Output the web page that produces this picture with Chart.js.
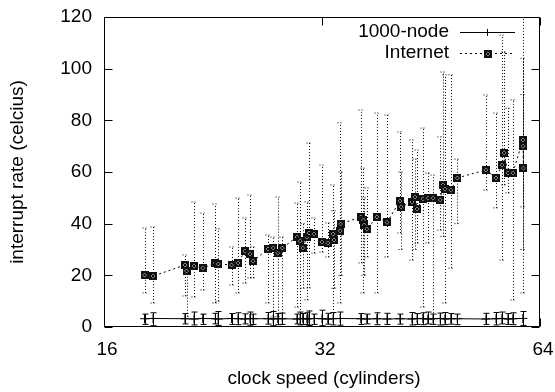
<!DOCTYPE html>
<html><head><meta charset="utf-8">
<script src="https://cdn.jsdelivr.net/npm/chart.js@4/dist/chart.umd.min.js"></script>
<style>html,body{margin:0;padding:0;background:#fff}#wrap{width:555px;height:392px}</style>
</head><body><div id="wrap"><canvas id="c" width="555" height="392"></canvas></div>
<script>
const xTicks = [16, 32, 64];
const yTicks = [0, 20, 40, 60, 80, 100, 120];
const seriesNames = ['1000-node', 'Internet'];
const xTitle = 'clock speed (cylinders)';
const yTitle = 'interrupt rate (celcius)';

const internetX = [18.2, 18.7, 20.7, 20.8, 21.3, 21.9, 22.8, 23.0, 24.0, 24.5, 25.05, 25.45, 25.7, 26.95, 27.4, 27.8, 28.2, 29.55, 29.85, 30.1, 30.5, 30.7, 31.2, 32.0, 32.6, 33.15, 33.25, 33.9, 33.95, 36.2, 36.5, 36.6, 36.9, 38.1, 39.35, 41.0, 41.15, 42.6, 43.0, 43.3, 44.1, 44.8, 45.55, 46.6, 47.0, 47.3, 48.2, 49.2, 53.9, 55.65, 56.7, 57.1, 57.8, 58.7, 60.6, 60.65, 60.7];
const internetY = [20.1, 19.7, 24.0, 21.7, 23.6, 22.8, 24.8, 24.4, 24.0, 24.8, 29.4, 28.3, 25.5, 30.2, 30.6, 28.6, 30.6, 34.8, 33.3, 30.6, 34.8, 36.4, 36.0, 32.9, 32.5, 36.0, 33.7, 37.2, 39.9, 42.6, 41.4, 39.5, 37.9, 42.6, 40.5, 48.8, 46.5, 48.4, 50.3, 45.7, 49.6, 49.9, 49.9, 49.2, 55.0, 53.4, 53.0, 57.7, 60.8, 57.7, 62.7, 67.4, 59.6, 59.6, 72.4, 70.0, 61.5];
const internetLow = [13.2, 9.3, 12, 4, 11.6, 14.3, 9.3, 10, 16.3, 13.2, 17, 19, 19, 9.3, 3.9, 4, 3, 7.7, 5.4, 15, 10.5, 15.1, 28.6, 29, 27.1, 5.4, 15, 9.3, 20, 24.8, 13.2, 20, 27.1, 13.2, 27.1, 36.4, 30, 25.9, 30, 32.5, 7.7, 32.5, 3, 37.5, 35, 9.3, 22.8, 40, 53, 46.1, 25.9, 55, 51.9, 10.5, 46.5, 13.2, 30];
const internetHigh = [38.3, 38.7, 27.9, 22.5, 48.4, 44.1, 47.6, 38, 31, 49.9, 42.2, 51.1, 31, 35.6, 34.8, 50.3, 34.8, 48, 56.1, 40, 48.4, 71.2, 42.2, 62.7, 40.3, 55, 45, 79, 60, 84, 61.5, 50, 53.8, 82.8, 82, 75.5, 60, 72.4, 65, 68.5, 77, 59.6, 58.8, 73.6, 98.7, 97.6, 97.6, 65, 89.8, 82.8, 113, 106.5, 84.7, 87.9, 104, 125, 90];

const nodeX = [18.2, 18.7, 20.7, 21.3, 21.9, 22.8, 23.0, 24.0, 24.5, 25.05, 25.45, 25.7, 26.95, 27.4, 27.8, 28.2, 29.55, 29.85, 30.1, 30.5, 30.7, 31.2, 32.0, 32.6, 33.15, 33.9, 36.2, 36.9, 38.1, 39.35, 41.0, 42.6, 43.3, 44.1, 44.8, 45.55, 46.6, 47.3, 48.2, 49.2, 53.9, 55.65, 56.7, 57.8, 58.7, 60.6];
const nodeY = [3.2, 3.3, 3.2, 3.1, 3.3, 3.2, 3.1, 3.3, 3.2, 3.1, 3.3, 3.2, 3.2, 3.1, 3.3, 3.2, 3.1, 3.2, 3.3, 3.1, 3.2, 3.3, 3.2, 3.1, 3.2, 3.3, 3.2, 3.1, 3.2, 3.1, 3.2, 3.1, 3.3, 3.2, 3.1, 3.2, 3.3, 3.1, 3.2, 3.2, 3.1, 3.2, 3.3, 3.1, 3.2, 3.3];
const nodeLow = [1.0, 0.5, 1.2, 0.8, 1.0, 1.2, 0.6, 1.0, 0.9, 1.2, 0.7, 1.0, 1.1, 0.5, 0.9, 1.0, 1.2, 0.8, 1.0, 0.9, 0.6, 1.0, 0.5, 1.1, 0.8, 0.7, 1.0, 1.2, 0.9, 1.0, 1.1, 0.8, 1.0, 0.9, 1.2, 1.0, 0.8, 0.9, 1.1, 0.9, 1.0, 0.8, 1.2, 1.0, 0.9, 0.6];
const nodeHigh = [5.0, 5.5, 5.2, 5.8, 5.0, 5.3, 6.0, 5.2, 5.5, 5.1, 5.8, 5.0, 5.6, 6.0, 5.2, 5.4, 5.0, 5.8, 5.2, 5.5, 6.2, 5.0, 6.5, 5.3, 5.6, 5.8, 5.2, 5.0, 5.5, 5.3, 5.0, 5.6, 5.2, 5.5, 5.8, 5.0, 5.4, 5.6, 5.2, 5.0, 5.3, 5.6, 5.8, 5.2, 5.5, 6.0];

const FONT = '"Liberation Sans", Arial, Helvetica, sans-serif';
const FS = 19;

function toPts(xs, ys, lo, hi) {
  return xs.map((x, i) => ({x: x, y: ys[i], lo: lo[i], hi: hi[i]}));
}

// marker for the Internet series: boxed x
const boxMark = document.createElement('canvas');
boxMark.width = 8; boxMark.height = 8;
(function(){
  const g = boxMark.getContext('2d');
  g.fillStyle = '#111'; g.fillRect(0, 0, 8, 8);
  g.fillStyle = '#888'; g.fillRect(2, 2, 4, 4);
  g.strokeStyle = '#000'; g.lineWidth = 1;
  g.beginPath(); g.moveTo(2, 2); g.lineTo(6, 6); g.moveTo(6, 2); g.lineTo(2, 6); g.stroke();
})();

const errorBars = {
  id: 'errorBars',
  beforeDatasetsDraw(chart) {
    const ctx = chart.ctx, xs = chart.scales.x, ys = chart.scales.y, a = chart.chartArea;
    ctx.save();
    ctx.beginPath(); ctx.rect(a.left, a.top, a.right - a.left, a.bottom - a.top); ctx.clip();
    chart.data.datasets.forEach((ds, di) => {
      ctx.strokeStyle = '#000';
      ctx.lineWidth = 1;
      ctx.setLineDash(di === 1 ? [1, 2] : []);
      ds.data.forEach(p => {
        const px = Math.round(xs.getPixelForValue(p.x)) + 0.5;
        const y1 = ys.getPixelForValue(p.lo), y2 = ys.getPixelForValue(p.hi);
        ctx.beginPath();
        ctx.moveTo(px, y1); ctx.lineTo(px, y2);
        ctx.moveTo(px - 3, y1); ctx.lineTo(px + 3, y1);
        ctx.moveTo(px - 3, y2); ctx.lineTo(px + 3, y2);
        ctx.stroke();
      });
    });
    ctx.restore();
  }
};

const frame = {
  id: 'frame',
  afterDraw(chart) {
    const ctx = chart.ctx, a = chart.chartArea, xs = chart.scales.x, ys = chart.scales.y;
    ctx.save();
    ctx.strokeStyle = '#000'; ctx.lineWidth = 1; ctx.setLineDash([]);
    const L = a.left + 0.5, R = a.right - 0.5, T = a.top + 0.5, B = a.bottom - 0.5;
    ctx.beginPath();
    ctx.rect(L, T, R - L, B - T);
    yTicks.forEach(v => {
      const y = Math.round(ys.getPixelForValue(v)) + 0.5;
      ctx.moveTo(L, y); ctx.lineTo(L + 8, y);
      ctx.moveTo(R, y); ctx.lineTo(R - 8, y);
    });
    xTicks.forEach(v => {
      const x = Math.round(xs.getPixelForValue(v)) + 0.5;
      ctx.moveTo(x, B); ctx.lineTo(x, B - 8);
      ctx.moveTo(x, T); ctx.lineTo(x, T + 8);
    });
    ctx.stroke();

    // axis titles
    ctx.fillStyle = '#000';
    ctx.font = FS + 'px ' + FONT;
    ctx.textAlign = 'center'; ctx.textBaseline = 'middle';
    ctx.fillText(xTitle, (a.left + a.right) / 2 + 2, 379);
    ctx.save();
    ctx.translate(18, (a.top + a.bottom) / 2);
    ctx.rotate(-Math.PI / 2);
    ctx.fillText(yTitle, 0, 0);
    ctx.restore();

    // legend
    ctx.textAlign = 'right';
    const rows = [32, 53];
    ctx.fillText(seriesNames[0], 449, rows[0]);
    ctx.fillText(seriesNames[1], 449, rows[1]);
    ctx.beginPath();
    ctx.moveTo(460, rows[0] + 0.5); ctx.lineTo(515, rows[0] + 0.5);
    ctx.moveTo(487.5, rows[0] - 3); ctx.lineTo(487.5, rows[0] + 4);
    ctx.moveTo(484, rows[0] + 0.5); ctx.lineTo(491, rows[0] + 0.5);
    ctx.stroke();
    ctx.setLineDash([2, 3]);
    ctx.beginPath();
    ctx.moveTo(460, rows[1] + 0.5); ctx.lineTo(515, rows[1] + 0.5);
    ctx.stroke();
    ctx.setLineDash([]);
    ctx.drawImage(boxMark, 484, rows[1] - 3);
    ctx.restore();
  }
};

new Chart(document.getElementById('c'), {
  type: 'scatter',
  data: {
    datasets: [
      {
        label: seriesNames[0],
        data: toPts(nodeX, nodeY, nodeLow, nodeHigh),
        showLine: true,
        borderColor: '#000',
        borderWidth: 1,
        pointStyle: 'cross',
        pointRadius: 4.5,
        pointBorderColor: '#000',
        pointBorderWidth: 1,
        pointBackgroundColor: '#000'
      },
      {
        label: seriesNames[1],
        data: toPts(internetX, internetY, internetLow, internetHigh),
        showLine: true,
        borderColor: '#000',
        borderWidth: 1,
        borderDash: [2, 3],
        pointStyle: boxMark,
        pointRadius: 4
      }
    ]
  },
  options: {
    responsive: false,
    animation: false,
    devicePixelRatio: 1,
    layout: {padding: {top: 17, right: 15, left: 0, bottom: 0}},
    plugins: {legend: {display: false}, tooltip: {enabled: false}},
    scales: {
      x: {
        type: 'logarithmic',
        min: 16, max: 64,
        afterBuildTicks: s => { s.ticks = xTicks.map(v => ({value: v})); },
        afterFit: s => { s.height = 65; s.paddingLeft = 0; s.paddingRight = 0; },
        grid: {display: false, drawTicks: false},
        border: {display: false},
        ticks: {color: '#000', font: {family: FONT, size: FS}, padding: 11, labelOffset: 3, maxRotation: 0, autoSkip: false, callback: v => String(v)}
      },
      y: {
        type: 'linear',
        min: 0, max: 120,
        afterBuildTicks: s => { s.ticks = yTicks.map(v => ({value: v})); },
        afterFit: s => { s.width = 104; s.paddingTop = 0; s.paddingBottom = 0; },
        grid: {display: false, drawTicks: false},
        border: {display: false},
        ticks: {color: '#000', font: {family: FONT, size: FS}, padding: 12, callback: v => String(v)}
      }
    }
  },
  plugins: [errorBars, frame]
});
</script>
</body></html>
